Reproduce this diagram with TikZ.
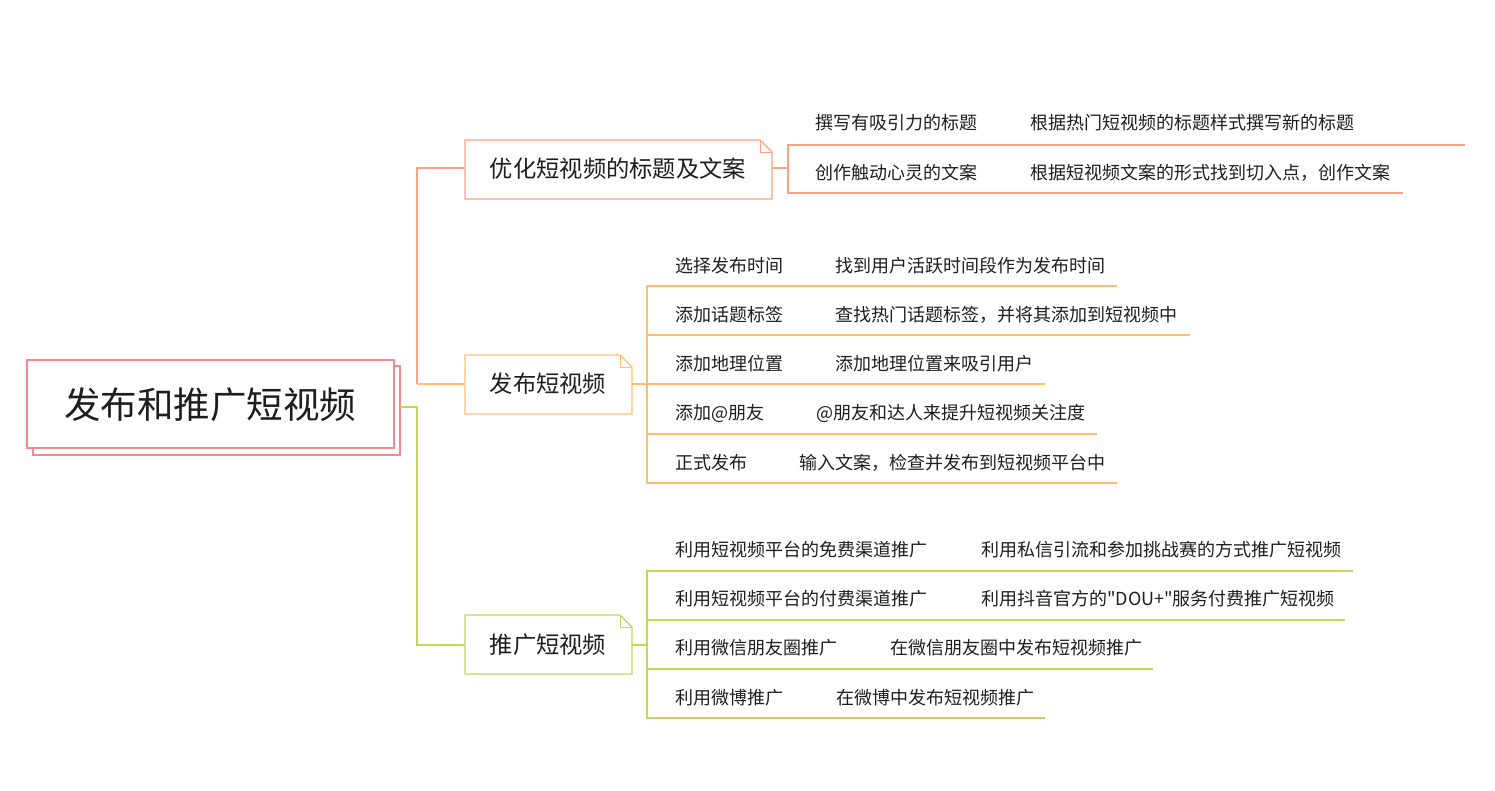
\documentclass[tikz,border=0pt]{standalone}
\usepackage{fontspec}
\setmainfont{Noto Sans CJK SC}[Ligatures=TeXOff]
\definecolor{rootc}{RGB}{242,140,140}
\definecolor{c1}{RGB}{249,162,132}
\definecolor{c2}{RGB}{255,190,110}
\definecolor{c3}{RGB}{200,212,90}
\definecolor{txt}{RGB}{30,30,30}
\tikzset{
  leaf/.style={anchor=west,inner sep=0pt,text=txt,font=\fontsize{18}{20}\selectfont},
  branchtxt/.style={inner sep=0pt,text=txt,font=\fontsize{23.3}{25}\selectfont},
  ln/.style={line width=1.3pt},
}
\begin{document}
\begin{tikzpicture}[x=1pt,y=-1pt]
\useasboundingbox (0,0) rectangle (1495,790);
% root
\draw[rootc,line width=1.3pt,fill=white] (33,366) rectangle (400,455);
\draw[rootc,line width=1.3pt,fill=white] (27,360) rectangle (394,448);
\node[inner sep=0pt,text=txt,font=\fontsize{36.5}{40}\selectfont] (root) at (210,405) {发布和推广短视频};
\coordinate (rootR) at (400,407);
\coordinate (t1) at (417,168);
\coordinate (t2) at (417,384);
\coordinate (t3) at (417,645);
% branch boxes
\newcommand{\dogbox}[5]{% x1 y1 x2 y2 color
  \draw[#5,line width=1.3pt,fill=white] (#1,#2) -- (#3-12,#2) -- (#3,#2+12) -- (#3,#4) -- (#1,#4) -- cycle;
  \draw[#5,line width=1pt] (#3-12,#2) -- (#3-12,#2+12) -- (#3,#2+12);
}
\dogbox{465}{140}{772}{199}{c1}
\node[branchtxt] (b1) at (618,169) {优化短视频的标题及文案};
\coordinate (b1L) at (465,168); \coordinate (b1R) at (772,168);
\dogbox{465}{355}{632}{414}{c2}
\node[branchtxt] (b2) at (548,384) {发布短视频};
\coordinate (b2L) at (465,384); \coordinate (b2R) at (632,384);
\dogbox{465}{615}{632}{674}{c3}
\node[branchtxt] (b3) at (548,645) {推广短视频};
\coordinate (b3L) at (465,645); \coordinate (b3R) at (632,645);
% trunk connectors
\draw[c1,ln] (t2) -- (t1) -- (b1L);
\draw[c2,ln] (t2) -- (b2L);
\draw[c3,ln] (rootR) -- (t2 |- rootR) -- (t3) -- (b3L);
% ---------- branch 1 leaves
\coordinate (v1a) at (788,145); \coordinate (v1b) at (788,193);
\draw[c1,ln] (b1R) -- (788,168);
\draw[c1,ln] (1465,145) -- (v1a) -- (v1b) -- (1403,193);
\node[leaf] (l11) at (815,123) {撰写有吸引力的标题};
\node[leaf] (d11) at (1030,123) {根据热门短视频的标题样式撰写新的标题};
\node[leaf] (l12) at (815,173) {创作触动心灵的文案};
\node[leaf] (d12) at (1030,173) {根据短视频文案的形式找到切入点，创作文案};
% ---------- branch 2 leaves
\coordinate (v2a) at (647,286); \coordinate (v2b) at (647,483);
\draw[c2,ln] (b2R) -- (647,384);
\draw[c2,ln] (1117,286) -- (v2a) -- (v2b) -- (1117,483);
\draw[c2,ln] (647,335) -- (1190,335);
\draw[c2,ln] (647,384) -- (1045,384);
\draw[c2,ln] (647,434) -- (1097,434);
\node[leaf] (l21) at (675,266) {选择发布时间};
\node[leaf] (d21) at (835,266) {找到用户活跃时间段作为发布时间};
\node[leaf] (l22) at (675,315) {添加话题标签};
\node[leaf] (d22) at (835,315) {查找热门话题标签，并将其添加到短视频中};
\node[leaf] (l23) at (675,364) {添加地理位置};
\node[leaf] (d23) at (835,364) {添加地理位置来吸引用户};
\node[leaf] (l24) at (675,413) {添加@朋友};
\node[leaf] (d24) at (816,413) {@朋友和达人来提升短视频关注度};
\node[leaf] (l25) at (675,463) {正式发布};
\node[leaf] (d25) at (799,463) {输入文案，检查并发布到短视频平台中};
% ---------- branch 3 leaves
\coordinate (v3a) at (647,571); \coordinate (v3b) at (647,718);
\draw[c3,ln] (b3R) -- (647,645);
\draw[c3,ln] (1353,571) -- (v3a) -- (v3b) -- (1045,718);
\draw[c3,ln] (647,620) -- (1345,620);
\draw[c3,ln] (647,669) -- (1153,669);
\node[leaf] (l31) at (675,550) {利用短视频平台的免费渠道推广};
\node[leaf] (d31) at (981,550) {利用私信引流和参加挑战赛的方式推广短视频};
\node[leaf] (l32) at (675,599) {利用短视频平台的付费渠道推广};
\node[leaf] (d32) at (981,599) {利用抖音官方的"DOU+"服务付费推广短视频};
\node[leaf] (l33) at (675,648) {利用微信朋友圈推广};
\node[leaf] (d33) at (890,648) {在微信朋友圈中发布短视频推广};
\node[leaf] (l34) at (675,698) {利用微博推广};
\node[leaf] (d34) at (836,698) {在微博中发布短视频推广};
\end{tikzpicture}
\end{document}
